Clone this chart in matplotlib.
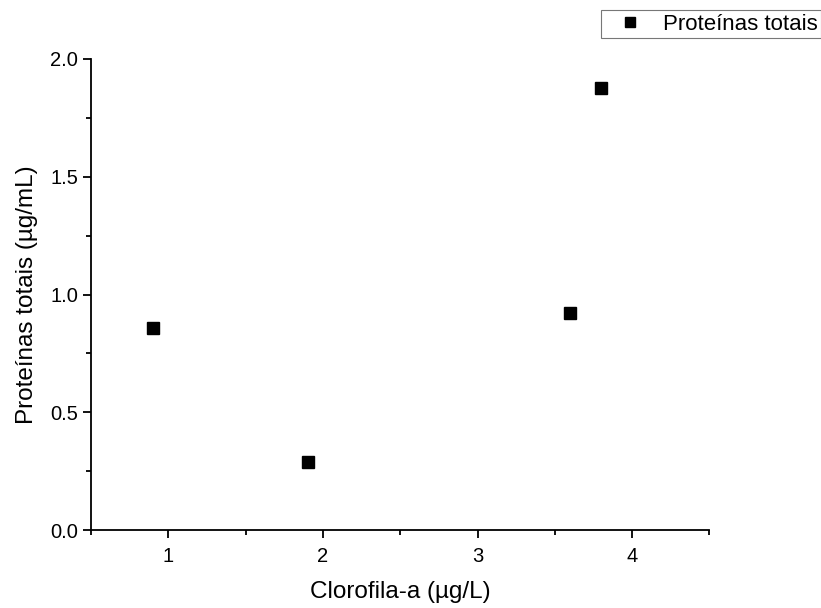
import matplotlib
matplotlib.use("Agg")
import matplotlib.pyplot as plt
from matplotlib.ticker import MultipleLocator

plt.rcParams['font.family'] = ['Liberation Sans', 'DejaVu Sans']

# data
clorofila = [0.9, 1.9, 3.6, 3.8]
proteinas = [0.86, 0.29, 0.92, 1.875]
serie = "Proteínas totais"

fig = plt.figure(figsize=(8.21, 6.08), dpi=100)
ax = fig.add_axes([0.111, 0.128, 0.753, 0.775])

ax.plot(clorofila, proteinas, linestyle='none', marker='s', markersize=8,
        color='black', label=serie)

ax.set_xlim(0.5, 4.5)
ax.set_ylim(0.0, 2.0)
ax.xaxis.set_major_locator(MultipleLocator(1))
ax.xaxis.set_minor_locator(MultipleLocator(0.5))
ax.yaxis.set_major_locator(MultipleLocator(0.5))
ax.yaxis.set_minor_locator(MultipleLocator(0.25))
ax.yaxis.set_major_formatter(plt.FormatStrFormatter('%.1f'))

for s in ['top', 'right']:
    ax.spines[s].set_visible(False)
for s in ['left', 'bottom']:
    ax.spines[s].set_linewidth(1.3)
ax.tick_params(which='major', direction='out', length=6, width=1.3, labelsize=14.5)
ax.tick_params(axis='x', which='major', pad=6)
ax.tick_params(which='minor', direction='out', length=3.5, width=1.3)

ax.set_xlabel("Clorofila-a (µg/L)", fontsize=17.5, labelpad=11)
ax.set_ylabel("Proteínas totais (µg/mL)", fontsize=17.5, labelpad=9)

leg = fig.legend(loc='upper right', bbox_to_anchor=(1.0, 0.983), fontsize=16,
                 frameon=True, fancybox=False, edgecolor='#555555',
                 borderpad=0.15, borderaxespad=0, handlelength=2.3,
                 handletextpad=0.35, markerscale=0.9)
leg.get_frame().set_linewidth(0.8)

fig.savefig("out.png", dpi=100)
